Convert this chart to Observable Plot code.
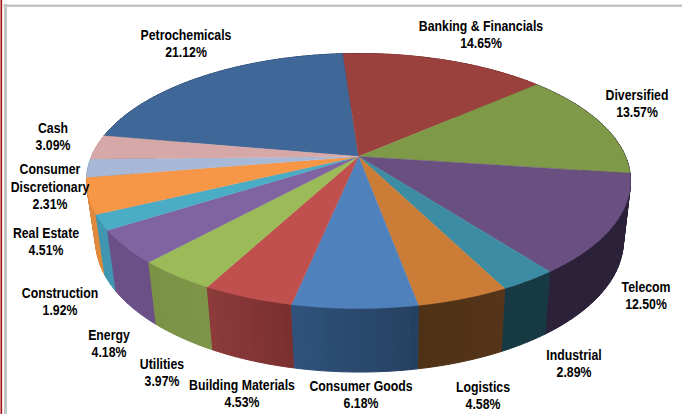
<!DOCTYPE html>
<html>
<head>
<meta charset="utf-8">
<script src="https://cdn.jsdelivr.net/npm/d3@7"></script>
<script src="https://cdn.jsdelivr.net/npm/@observablehq/plot@0.6"></script>
<style>
  html, body { margin: 0; padding: 0; background: #fff; }
  svg { display: block; }
</style>
</head>
<body>
<div id="chart"></div>
<script>
// Sector weights, clockwise from the back of the pie
const sectors = ["Petrochemicals", "Banking & Financials", "Diversified", "Telecom", "Industrial", "Logistics", "Consumer Goods", "Building Materials", "Utilities", "Energy", "Construction", "Real Estate", "Consumer\nDiscretionary", "Cash"];
const weights = [21.12, 14.65, 13.57, 12.50, 2.89, 4.58, 6.18, 4.53, 3.97, 4.18, 1.92, 4.51, 2.31, 3.09];

// Fill of the top face, and of the rim at the start and end of each sector
const topColors = ["#3f6797", "#9a403d", "#7e9a48", "#6a5080", "#3c8ca3", "#cb7c37", "#4f81bd", "#c0504d", "#9bbb59", "#8064a2", "#4bacc6", "#f79646", "#a8b9d7", "#d6a9a8"];
const rimStart = ["#2b4568", "#6a2c2a", "#2b2139", "#2b2139", "#173943", "#55341a", "#26405f", "#7a3030", "#7d9449", "#6b5088", "#4096b0", "#e08a3d", "#8c9cb8", "#b58f8e"];
const rimEnd = ["#2b4568", "#6a2c2a", "#2b2139", "#2b2139", "#173943", "#4f3216", "#2f527c", "#8d3a3a", "#7a9146", "#6b5088", "#4096b0", "#e08a3d", "#8c9cb8", "#b58f8e"];

// Anchor of each two-line label
const labelX = [185.5, 480.5, 636.5, 645.5, 573.5, 482.5, 360.5, 241.5, 161.5, 108.5, 59.5, 45.5, 49.5, 52.5];
const labelY = [42.5, 33.5, 102.5, 294.5, 362.5, 394.5, 393.5, 392.5, 371.5, 342.5, 300.5, 240.5, 185.5, 135.5];

// Perspective view of the disc: the centre sits above the middle of the ellipse
const tilt = 0.192;
const startAngle = -80;
const topPlane = {cx: 358, cy: 156, rx: 267, ry: 122.8};
const basePlane = {cx: 359, cy: 215, rx: 259, ry: 126.5};

function project(plane, degrees) {
  const a = degrees * Math.PI / 180;
  const w = 1 + tilt * Math.cos(a);
  return {
    x: plane.cx + plane.rx * Math.sin(a) / w,
    y: plane.cy - plane.ry * Math.cos(a) / w
  };
}

// Angular extent of every sector, taken from its weight
const total = d3.sum(weights);
let cursor = startAngle;
const arcs = weights.map((v, i) => {
  const from = cursor;
  cursor += v / total * 360;
  return {i, from, to: cursor};
});

const topFaces = arcs.flatMap(({i, from, to}) => {
  const steps = Math.max(2, Math.ceil((to - from) / 0.5));
  const ring = d3.range(steps + 1).map(k => project(topPlane, from + (to - from) * k / steps));
  const apex = {x: topPlane.cx, y: topPlane.cy};
  return [apex, ...ring, apex].map(p => ({...p, key: `top${i}`, fill: topColors[i]}));
});

// The rim is cut into narrow strips so its shade can drift along each sector
const strips = arcs.flatMap(({i, from, to}) => {
  const steps = Math.max(1, Math.ceil((to - from) / 1.5));
  const shade = d3.interpolateRgb(rimStart[i], rimEnd[i]);
  return d3.range(steps).map(k => ({
    i, k,
    a: from + (to - from) * k / steps,
    b: from + (to - from) * (k + 1) / steps,
    fill: d3.color(shade((k + 0.5) / steps)).formatHex()
  }));
});
// Rear strips are painted first so the front of the rim ends up on top
const rimFaces = strips
  .slice()
  .sort((p, q) => Math.cos((q.a + q.b) * Math.PI / 360) - Math.cos((p.a + p.b) * Math.PI / 360))
  .flatMap(s => [
    project(topPlane, s.a), project(topPlane, s.b),
    project(basePlane, s.b), project(basePlane, s.a), project(topPlane, s.a)
  ].map(p => ({...p, key: `rim${s.i}-${s.k}`, fill: s.fill})));

const labels = sectors.map((name, i) => ({
  text: `${name}\n${weights[i].toFixed(2)}%`,
  x: labelX[i],
  y: labelY[i]
}));

// Narrows the label glyphs horizontally around their anchor
function condensed(index, scales, values, dimensions, context, next) {
  const g = next(index, scales, values, dimensions, context);
  d3.select(g).selectAll("text").attr("transform", function () {
    return `${this.getAttribute("transform") || ""} scale(0.82,1)`;
  });
  return g;
}

const chart = Plot.plot({
  width: 682,
  height: 414,
  margin: 0,
  style: {background: "#fff"},
  x: {domain: [0, 682], range: [0, 682], axis: null},
  y: {domain: [0, 414], range: [0, 414], axis: null},
  color: {type: "identity"},
  marks: [
    // Panel border
    Plot.ruleX([0.8], {stroke: "#a6141a", strokeWidth: 1.7}),
    Plot.ruleX([5], {y1: 4, y2: 414, stroke: "#c4c4c4", strokeWidth: 3}),
    Plot.ruleY([5.2], {x1: 3.5, x2: 682, stroke: "#c4c4c4", strokeWidth: 2.6}),
    // Pie body
    Plot.line(rimFaces, {x: "x", y: "y", z: "key", fill: "fill", stroke: "fill", strokeWidth: 1}),
    Plot.line(topFaces, {x: "x", y: "y", z: "key", fill: "fill", stroke: "fill", strokeWidth: 0.4}),
    // Sector labels
    Plot.text(labels, {
      x: "x", y: "y", text: "text",
      textAnchor: "middle", lineAnchor: "middle",
      fontFamily: "'Liberation Sans', Arial, sans-serif",
      fontWeight: "bold", fontSize: 15, lineHeight: 1.17,
      fill: "#000",
      render: condensed
    })
  ]
});

document.getElementById("chart").append(chart);
</script>
</body>
</html>
